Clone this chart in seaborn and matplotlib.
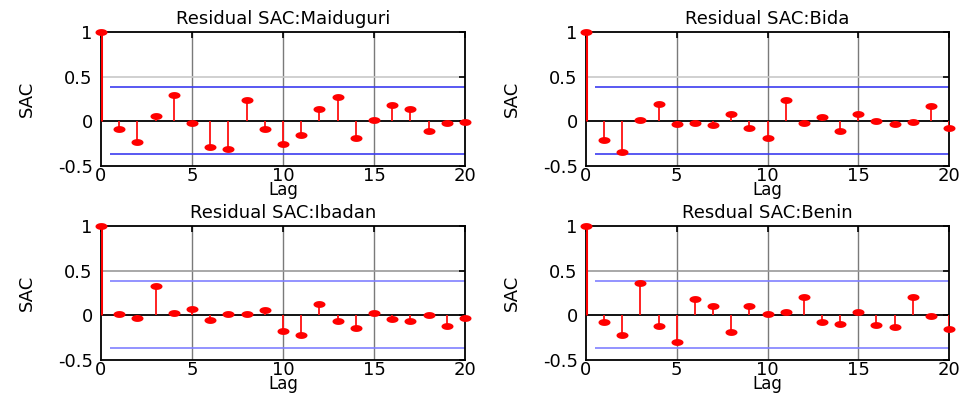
import numpy as np
import pandas as pd
import matplotlib
matplotlib.use("Agg")
import matplotlib.pyplot as plt
import seaborn as sns
from matplotlib.path import Path

# --- data (sample autocorrelation of residuals) ---
lags = list(range(21))

sac_maiduguri = [1.0, -0.086, -0.23, 0.063, 0.295, -0.022, -0.29, -0.306, 0.239, -0.086,
                 -0.25, -0.153, 0.138, 0.272, -0.187, 0.011, 0.183, 0.138, -0.108, -0.022, -0.011]
sac_bida = [1.0, -0.205, -0.34, 0.011, 0.198, -0.034, -0.022, -0.045, 0.086, -0.078,
            -0.187, 0.239, -0.022, 0.045, -0.108, 0.086, 0.0, -0.034, -0.011, 0.172, -0.078]
sac_ibadan = [1.0, 0.019, -0.026, 0.332, 0.026, 0.075, -0.056, 0.011, 0.011, 0.063,
              -0.175, -0.216, 0.127, -0.067, -0.142, 0.03, -0.045, -0.067, 0.0, -0.119, -0.034]
sac_benin = [1.0, -0.078, -0.216, 0.358, -0.119, -0.299, 0.187, 0.108, -0.187, 0.108,
             0.019, 0.041, 0.205, -0.078, -0.097, 0.041, -0.108, -0.131, 0.205, -0.011, -0.157]

titles = ["Residual SAC:Maiduguri", "Residual SAC:Bida",
          "Residual SAC:Ibadan", "Resdual SAC:Benin"]
upper_bound = 0.384
lower_bound = -0.367

series = [sac_maiduguri, sac_bida, sac_ibadan, sac_benin]

# --- style ---
sns.set_theme(style="white")
plt.rcParams['font.family'] = ['DejaVu Sans']
plt.rcParams['text.color'] = 'black'
plt.rcParams['axes.labelcolor'] = 'black'
fs = 13

# wide ellipse marker (the original figure is stretched horizontally)
t = np.linspace(0, 2 * np.pi, 40)
ellipse = Path(np.column_stack([1.75 * np.cos(t), np.sin(t)]), closed=True)

fig = plt.figure(figsize=(9.6, 3.96), dpi=100)

# axes boxes in figure fractions: [left, bottom, width, height]
boxes = [[0.1052, 0.5808, 0.3792, 0.3384],
         [0.6104, 0.5808, 0.3782, 0.3384],
         [0.1052, 0.0909, 0.3792, 0.3384],
         [0.6104, 0.0909, 0.3782, 0.3384]]
blue = ['#3c3cf0', '#3c3cf0', '#8080ff', '#8080ff']

for i, (vals, title, box) in enumerate(zip(series, titles, boxes)):
    ax = fig.add_axes(box)
    df = pd.DataFrame({'Lag': lags, 'SAC': vals})

    # grid: vertical darker, horizontal lighter
    for gx in [5, 10, 15]:
        ax.axvline(gx, color='#7a7a7a', lw=1.0, zorder=0)
    ax.axhline(0.5, color='#c8c8c8' if i < 2 else '#9a9a9a', lw=1.2, zorder=0)

    # confidence bounds
    ax.hlines([upper_bound, lower_bound], 0.5, 20, color=blue[i], lw=1.2, zorder=1)
    # zero line
    ax.axhline(0, color='black', lw=1.3, zorder=2)

    # stems
    ax.vlines(df['Lag'], 0, df['SAC'], color='#ff1010', lw=1.3, zorder=3)
    ax.vlines([0], 0, [df['SAC'][0]], color='#ff0000', lw=2.2, zorder=3)
    # stem heads
    sns.scatterplot(data=df, x='Lag', y='SAC', ax=ax, marker=ellipse, s=75,
                    color='#ff0000', edgecolor='#ff0000', linewidth=0, zorder=4,
                    legend=False, clip_on=False)

    ax.set_xlim(0, 20)
    ax.set_ylim(-0.5, 1)
    ax.set_xticks([0, 5, 10, 15, 20])
    ax.set_yticks([-0.5, 0, 0.5, 1])
    ax.set_yticklabels(['-0.5', '0', '0.5', '1'])
    ax.tick_params(direction='in', length=4, width=1.2, top=True, right=True,
                   labelsize=fs, colors='black')
    ax.tick_params(axis='y', pad=6)
    ax.tick_params(axis='x', pad=1)
    for sp in ax.spines.values():
        sp.set_visible(True)
        sp.set_color('black')
        sp.set_linewidth(1.3)
    ax.set_title(title, fontsize=fs, pad=6)
    ax.set_xlabel('Lag', fontsize=12, labelpad=-3)
    ax.set_ylabel('SAC', fontsize=fs, labelpad=16)

plt.savefig('out.png', dpi=100)
